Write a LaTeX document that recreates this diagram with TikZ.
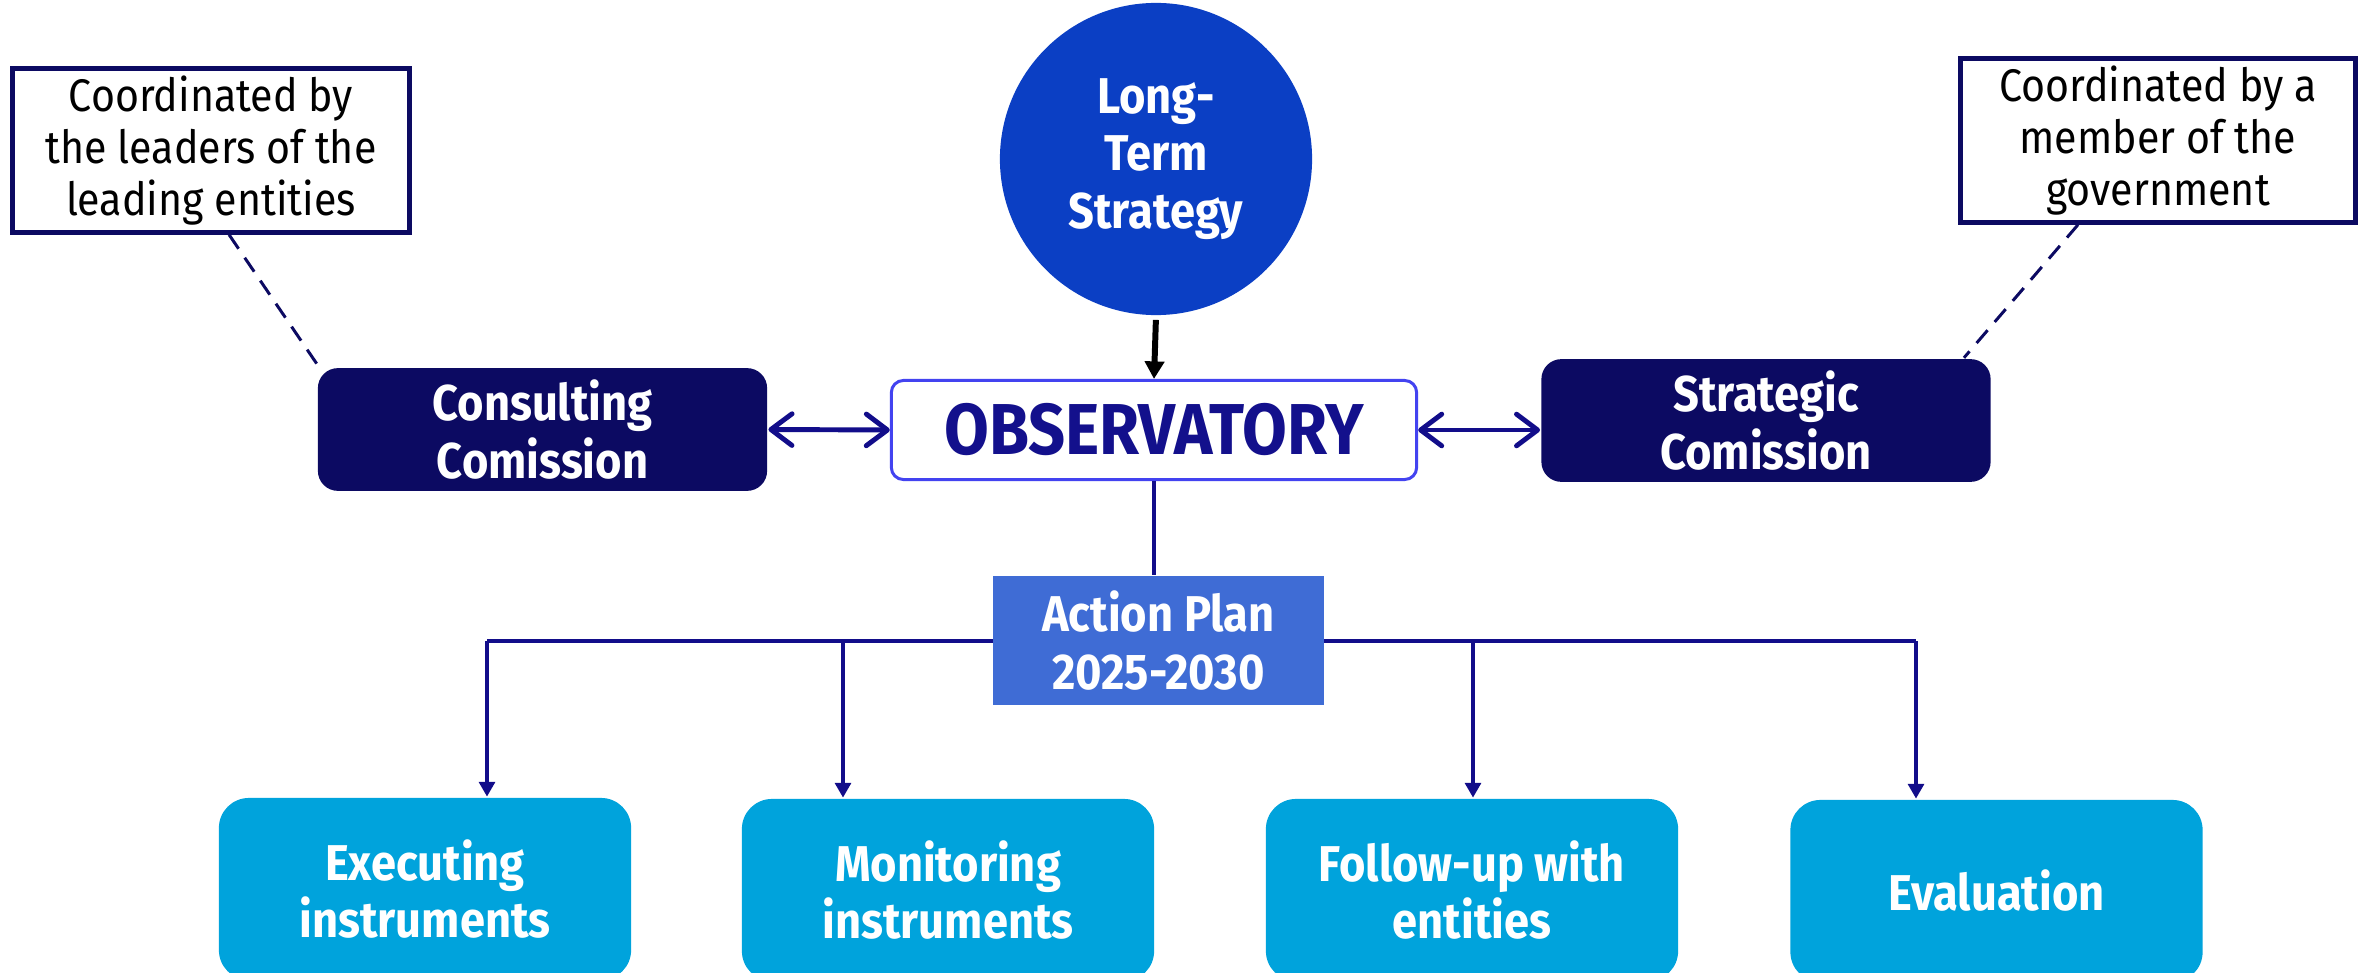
\documentclass[tikz,border=0pt]{standalone}
\usepackage{fontspec}
\setmainfont{Fira Sans}[FakeStretch=0.9]
\usetikzlibrary{arrows.meta,positioning,calc}
\tikzset{every picture/.style={line width=0.75pt}}

\definecolor{navy}{HTML}{0C0A62}
\definecolor{linknavy}{HTML}{120D8A}
\definecolor{strategyblue}{HTML}{0B3FC4}
\definecolor{obsborder}{HTML}{4343F0}
\definecolor{obstext}{HTML}{13108C}
\definecolor{planblue}{HTML}{3F6CD5}
\definecolor{taskcyan}{HTML}{00A3DC}

\tikzset{
  notebox/.style={draw=navy, line width=1.4pt, fill=white, align=center, inner sep=2pt,
    minimum width=3.97cm, minimum height=1.62cm, font=\fontsize{13}{14.8}\selectfont},
  boldtext/.style={text=white, align=center, font=\fontsize{14.3}{16.4}\selectfont\bfseries},
  commission/.style={boldtext, fill=navy, rounded corners=0.2cm, minimum width=4.49cm, minimum height=1.19cm},
  taskbox/.style={boldtext, fill=taskcyan, rounded corners=0.3cm, minimum width=4.12cm, minimum height=1.82cm},
  twoway/.style={linknavy, line width=1.4pt,
    {Straight Barb[length=6pt,width=9pt,round]}-{Straight Barb[length=6pt,width=9pt,round]}},
  branch/.style={linknavy, line width=1.1pt},
  drop/.style={linknavy, line width=1pt, -{Triangle[length=4.2pt,width=4.5pt]}},
  coordline/.style={navy, line width=0.85pt, dash pattern=on 4.8pt off 3.1pt},
}

\begin{document}
\begin{tikzpicture}[x=0.01cm, y=-0.01cm]
    \useasboundingbox (0,0) rectangle (2366,973);

    % strategy and observatory
    \node[circle, fill=strategyblue, minimum size=3.12cm, inner sep=0pt, boldtext] (strategy) at (1156,159) {Long-\\Term\\Strategy};
    \node[draw=obsborder, line width=0.85pt, rounded corners=0.12cm, minimum width=5.25cm, minimum height=0.99cm,
        text=obstext, font=\fontsize{20.5}{22}\selectfont\bfseries] (obs) at (1154,430) {OBSERVATORY};
    \draw[line width=1.7pt, -{Triangle[length=5pt,width=5.4pt]}, shorten <=1pt] (strategy.south) -- (obs.north);

    % commissions
    \node[commission] (consult) at (542.5,429.5) {Consulting\\Comission};
    \node[commission] (strat) at (1766,420.5) {Strategic\\Comission};
    \draw[twoway] (consult.east) -- (obs.west);
    \draw[twoway] (obs.east) -- (obs.east -| strat.west);

    % notes
    \node[notebox] (noteL) at (211,150.5) {Coordinated by\\the leaders of the\\leading entities};
    \node[notebox, minimum width=3.95cm, minimum height=1.60cm] (noteR) at (2158,140.5) {Coordinated by a\\member of the\\government};
    \draw[coordline] ($(noteL.south west)!0.545!(noteL.south east)$) -- ($(consult.north west)+(5,4)$);
    \draw[coordline] ($(noteR.south west)!0.3!(noteR.south east)$) -- ($(strat.north east)+(-28,0)$);

    % action plan
    \coordinate (j1) at (487,641);
    \coordinate (j2) at (843,641);
    \coordinate (j3) at (1473,641);
    \coordinate (j4) at (1916,641);
    \draw[branch] (j1) -- (j4);
    \node[boldtext, fill=planblue, minimum width=3.3cm, minimum height=1.29cm] (plan) at (1158.5,640.5) {Action Plan\\2025-2030};
    \draw[branch, line width=0.9pt] (obs.south) -- (obs.south |- plan.north);

    % tasks
    \node[taskbox] (exec) at (425,889) {Executing\\instruments};
    \node[taskbox] (monit) at (948,890) {Monitoring\\instruments};
    \node[taskbox] (follow) at (1472,890) {Follow-up with\\entities};
    \node[taskbox] (eval) at (1996.5,891) {Evaluation};
    \foreach \j/\b in {j1/exec, j2/monit, j3/follow, j4/eval}
        \draw[drop] (\j) -- (\j |- \b.north);
\end{tikzpicture}
\end{document}
